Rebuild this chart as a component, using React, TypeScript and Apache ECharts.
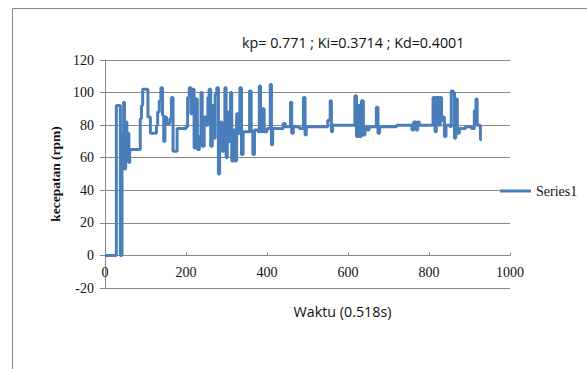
import React, { useEffect, useRef } from "react";
import * as echarts from "echarts";

const titleText = "kp= 0.771 ; Ki=0.3714 ; Kd=0.4001";
const xAxisName = "Waktu (0.518s)";
const yAxisName = "kecepatan (rpm)";
const seriesName = "Series1";

// time sample index (x) where each new speed value begins
const timeIdx = [
  0, 28, 38, 42, 46, 48, 51, 54, 57, 59, 61, 87, 90, 93, 106, 112, 124, 127, 130, 134,
  138, 142, 145, 148, 152, 160, 164, 168, 178, 200, 204, 208, 212, 215, 220, 223, 228, 233, 237, 240,
  245, 250, 254, 257, 261, 265, 268, 272, 276, 280, 283, 286, 289, 293, 296, 299, 302, 306, 310, 313,
  318, 321, 325, 329, 333, 337, 341, 350, 357, 361, 365, 369, 378, 381, 384, 389, 393, 400, 408, 411,
  414, 440, 445, 458, 461, 465, 480, 490, 494, 497, 540, 550, 556, 559, 562, 614, 617, 621, 625, 629,
  633, 638, 642, 648, 652, 670, 674, 678, 720, 758, 762, 768, 772, 776, 810, 815, 818, 825, 828, 831,
  835, 838, 842, 852, 855, 860, 863, 866, 870, 875, 890, 905, 912, 916, 919, 924, 927, 930,
];

// speed (rpm)
const speed = [
  0, 92, 0, 75, 94, 53, 82, 58, 75, 57, 65, 84, 92, 102, 85, 75, 75, 80, 88, 95,
  103, 86, 70, 85, 81, 84, 97, 64, 78, 79, 97, 103, 87, 102, 66, 96, 65, 73, 100, 67,
  85, 80, 97, 102, 67, 92, 72, 99, 103, 50, 70, 82, 64, 76, 103, 60, 88, 70, 100, 58,
  77, 58, 87, 75, 103, 62, 76, 76, 101, 76, 62, 77, 76, 104, 76, 90, 76, 78, 105, 68,
  78, 81, 79, 94, 75, 79, 78, 97, 74, 79, 79, 83, 95, 76, 80, 80, 98, 73, 92, 73,
  95, 74, 79, 77, 79, 91, 75, 79, 80, 77, 82, 77, 82, 80, 97, 76, 97, 80, 97, 83,
  85, 73, 80, 79, 101, 100, 72, 96, 75, 78, 79, 78, 89, 96, 80, 80, 71, 71,
];

const xTicks = { min: 0, max: 1000, interval: 200 };
const yTicks = { min: -20, max: 120, interval: 20 };

export default function App() {
  const ref = useRef<HTMLDivElement>(null);

  useEffect(() => {
    if (!ref.current) return;
    const chart = echarts.init(ref.current, null, { renderer: "svg" });
    const gray = "#878787";
    const data = timeIdx.map((t, i) => [t, speed[i]]);
    const gridTop = 60;
    const gridBottom = 81;
    const plotH = 369 - gridTop - gridBottom;
    // move the x axis up to the value 0 of the y axis
    const zeroOffset = -((0 - yTicks.min) / (yTicks.max - yTicks.min)) * plotH;
    chart.setOption({
      animation: false,
      backgroundColor: "#ffffff",
      title: {
        text: titleText,
        left: 242,
        top: 35,
        padding: 0,
        textStyle: {
          fontFamily: "Open Sans",
          fontSize: 14.3,
          fontWeight: "normal",
          color: "#111",
        },
      },
      legend: {
        left: 500,
        top: 184,
        padding: 0,
        icon: "rect",
        itemWidth: 31,
        itemHeight: 3,
        textStyle: {
          fontFamily: "Liberation Serif",
          fontSize: 14,
          color: "#111",
        },
        data: [seriesName],
      },
      graphic: [
        {
          type: "rect",
          shape: { x: 12.5, y: 8.5, width: 700, height: 500 },
          style: { fill: "none", stroke: gray, lineWidth: 1 },
          silent: true,
        },
      ],
      grid: { left: 105, top: gridTop, right: 77, bottom: gridBottom, containLabel: false },
      xAxis: {
        type: "value",
        min: xTicks.min,
        max: xTicks.max,
        interval: xTicks.interval,
        offset: zeroOffset,
        name: xAxisName,
        nameLocation: "middle",
        nameGap: 49,
        nameTextStyle: {
          fontFamily: "Open Sans",
          fontSize: 14.3,
          color: "#111",
          padding: [0, 0, 0, 70],
        },
        axisLine: { show: true, onZero: false, lineStyle: { color: gray, width: 1 } },
        axisTick: { show: true, inside: true, length: 3, lineStyle: { color: gray } },
        axisLabel: {
          margin: 10,
          fontFamily: "Liberation Serif",
          fontSize: 14,
          color: "#111",
          formatter: (v: number) => String(v),
        },
        splitLine: { show: false },
      },
      yAxis: {
        type: "value",
        min: yTicks.min,
        max: yTicks.max,
        interval: yTicks.interval,
        name: yAxisName,
        nameLocation: "middle",
        nameGap: 36,
        nameTextStyle: {
          fontFamily: "Liberation Serif",
          fontSize: 13.5,
          fontWeight: "bold",
          color: "#111",
        },
        axisLine: { show: true, lineStyle: { color: gray, width: 1 } },
        axisTick: { show: true, inside: false, length: 5, lineStyle: { color: gray } },
        axisLabel: {
          margin: 11,
          fontFamily: "Liberation Serif",
          fontSize: 14,
          color: "#111",
        },
        splitLine: { show: true, lineStyle: { color: gray, width: 1 } },
      },
      series: [
        {
          name: seriesName,
          type: "line",
          step: "end",
          data,
          showSymbol: false,
          symbol: "none",
          color: "#4a7ebb",
          lineStyle: { color: "#4a7ebb", width: 3 },
        },
      ],
    });
    return () => chart.dispose();
  }, []);

  return (
    <div
      ref={ref}
      style={{ position: "absolute", left: 0, top: 0, width: 587, height: 369 }}
    />
  );
}
